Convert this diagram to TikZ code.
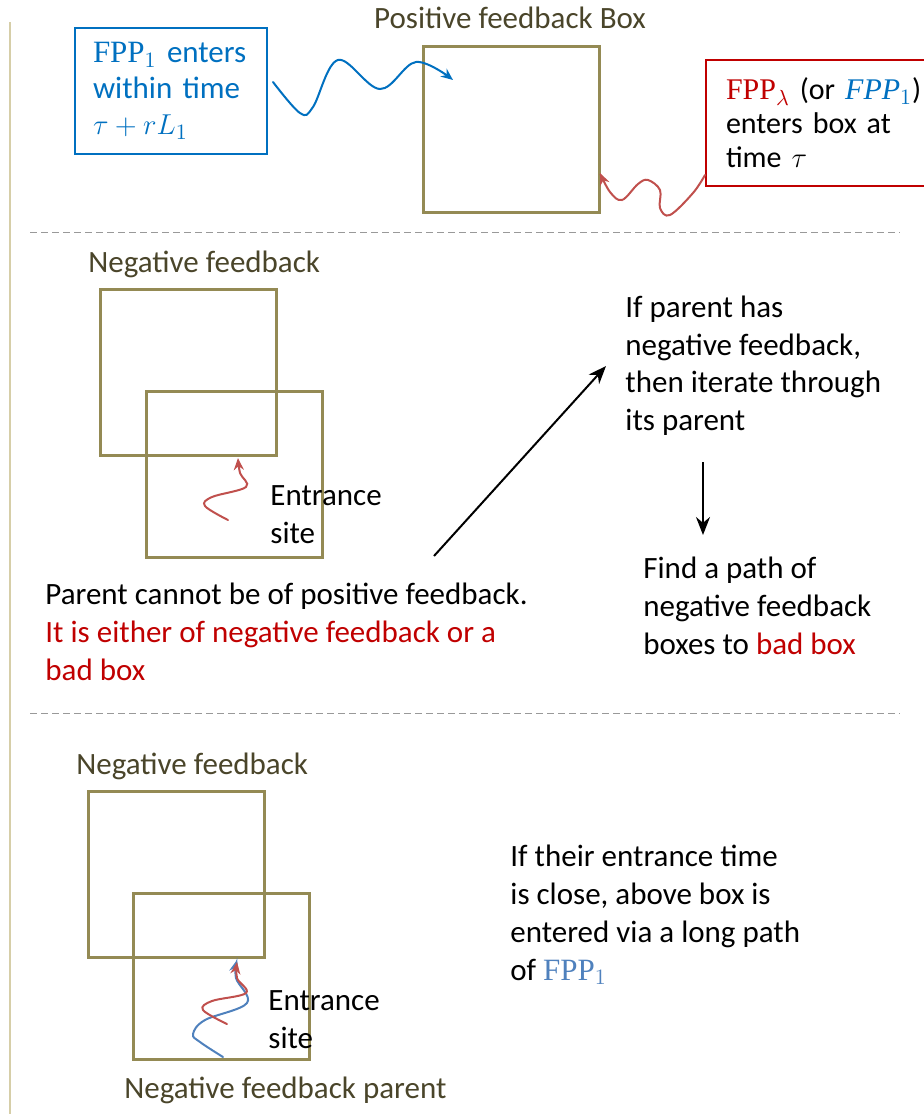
\documentclass[tikz,border=0pt]{standalone}
\usepackage[no-math]{fontspec}
\setmainfont{Carlito}
\newfontfamily\fppfont{Liberation Serif}
\usetikzlibrary{arrows.meta,positioning}
\definecolor{boxolive}{RGB}{148,138,84}
\definecolor{titleolive}{RGB}{74,69,42}
\definecolor{fppblue}{RGB}{0,112,192}
\definecolor{pathblue}{RGB}{79,129,189}
\definecolor{fppred}{RGB}{192,0,0}
\definecolor{pathred}{RGB}{192,80,77}
\definecolor{margintan}{RGB}{214,206,168}
\newcommand{\fpp}[1]{{\fppfont FPP}$_{#1}$}
\newcommand{\fppit}[1]{{\fppfont\itshape FPP}$_{#1}$}

\begin{document}
\begin{tikzpicture}[x=0.5pt,y=-0.5pt,
>={Stealth[length=6pt,width=5pt]},
every node/.style={font=\fontsize{15.5}{19}\selectfont,inner sep=0pt},
% multi-line texts sit on the baseline of their last line
txt/.style={anchor=base west,align=left},
title/.style={anchor=base west,text=titleolive},
fbbox/.style={draw=boxolive,line width=1.25pt,minimum width=88pt,
  minimum height=83pt,anchor=north west},
infobox/.style={anchor=north west,line width=1pt,minimum height=63pt,
  inner xsep=9pt,align=left,execute at begin node={\hyphenpenalty10000\relax}},
fpath/.style={->,line width=1pt,line cap=round},
bigarrow/.style={->,line width=1pt,>={Stealth[length=9pt,width=7pt]}},
sep/.style={draw=gray!80,line width=0.5pt,dash pattern=on 3.5pt off 2pt}
]
\useasboundingbox (0,0) rectangle (923,1114);
\draw[margintan,line width=0.8pt] (10,22) -- (10,1114);

%% positive feedback box
\node[fbbox] (pos) at (422,45) {};
\node[anchor=base,text=titleolive] (postitle) at (510,28) {Positive feedback Box};
\node[infobox,draw=fppblue,text=fppblue,text width=78pt,
  font=\fontsize{15.5}{18}\selectfont] (fppone) at (74,27)
  {\fpp{1} enters\\within time\\$\tau+rL_1$};
\node[infobox,draw=fppred,text width=125pt,inner xsep=10pt,
  font=\fontsize{15}{17}\selectfont] (fpplam) at (705,59)
  {\textcolor{fppred}{\fpp{\lambda}} (or \textcolor{fppblue}{\fppit{1}})\\enters box at\\time $\tau$};
\coordinate (bluein) at (453,80);
\coordinate (redin) at (600,173);
\draw[fpath,fppblue] plot[smooth,tension=0.6] coordinates
  {(273,82) (300,113) (313,107) (338,60) (380,89) (416,62) (bluein)};
\draw[fpath,pathred] plot[smooth,tension=0.6] coordinates
  {(705,175) (693,193) (670,215) (660,208) (660,190) (648,180) (638,184) (622,200) (610,192) (redin)};

\path[sep] (30,232) -- (900,232);

%% negative feedback, one level
\node[title] (negtitle) at (88,272) {Negative feedback};
\node[fbbox] (neg) at (99,288) {};
\node[fbbox] (negchild) at (145,390) {};
\coordinate (negin) at (238,458);
\draw[fpath,pathred] plot[smooth,tension=0.6] coordinates
  {(228,520) (205,506) (212,497) (246,487) (240,473) (negin)};
\node[txt] (site) at (270,543) {Entrance\\site};
\node[txt] (parent) at (45,680)
  {Parent cannot be of positive feedback.\\\textcolor{fppred}{It is either of negative feedback or a}\\\textcolor{fppred}{bad box}};
\node[txt,font=\fontsize{15.5}{18.7}\selectfont] (iterate) at (625,430)
  {If parent has\\negative feedback,\\then iterate through\\its parent};
\node[txt] (findpath) at (643,654) {Find a path of\\negative feedback\\boxes to \textcolor{fppred}{bad box}};
\coordinate (up0) at (434,556);
\coordinate (up1) at (606,366);
\coordinate (down0) at (703,462);
\coordinate (down1) at (703,535);
\draw[bigarrow] (up0) -- (up1);
\draw[bigarrow] (down0) -- (down1);

\path[sep] (30,713) -- (900,713);

%% negative feedback with its parent
\node[title] (negtitleb) at (76,774) {Negative feedback};
\node[fbbox] (negb) at (87,790) {};
\node[fbbox] (negparent) at (132,892) {};
\coordinate (negbin) at (237,960);
\draw[fpath,pathblue] plot[smooth,tension=0.6] coordinates
  {(223,1057) (200,1042) (193,1034) (205,1020) (247,1003) (236,978) (negbin)};
\draw[fpath,pathred] plot[smooth,tension=0.6] coordinates
  {(227,1024) (203,1010) (212,1001) (246,993) (237,978) (237,962)};
\node[txt] (siteb) at (268,1048) {Entrance\\site};
\node[title] (parenttitle) at (124,1098) {Negative feedback parent};
\node[txt] (close) at (510,980)
  {If their entrance time\\is close, above box is\\entered via a long path\\of \textcolor{pathblue}{\fpp{1}}};
\end{tikzpicture}
\end{document}
